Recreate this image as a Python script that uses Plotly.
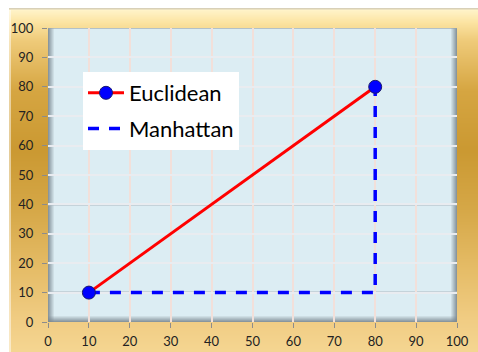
import base64
import struct
import zlib

import numpy as np
import plotly.graph_objects as go

# Point coordinates for the two distance paths
euclid_x = [10, 80]
euclid_y = [10, 80]
manhattan_x = [10, 80, 80]
manhattan_y = [10, 10, 80]
series_names = ["Euclidean", "Manhattan"]
tick_vals = list(range(0, 101, 10))

W, H = 478, 352
L, R, T, B = 48, 21, 28, 30  # margins around the plotting area
PX0, PX1 = L, W - R
PY0, PY1 = T, H - B


def hex_rgb(h):
    h = h.lstrip("#")
    return np.array([int(h[i:i + 2], 16) for i in (0, 2, 4)], dtype=float)


def make_png(arr):
    arr = np.clip(arr, 0, 255).astype(np.uint8)
    h, w, _ = arr.shape
    raw = b"".join(b"\x00" + arr[r].tobytes() for r in range(h))

    def chunk(tag, data):
        c = struct.pack(">I", len(data)) + tag + data
        return c + struct.pack(">I", zlib.crc32(tag + data) & 0xFFFFFFFF)

    png = b"\x89PNG\r\n\x1a\n"
    png += chunk(b"IHDR", struct.pack(">IIBBBBB", w, h, 8, 2, 0, 0, 0))
    png += chunk(b"IDAT", zlib.compress(raw, 9))
    png += chunk(b"IEND", b"")
    return "data:image/png;base64," + base64.b64encode(png).decode()


# Golden frame with a vertical gradient
img = np.full((H, W, 3), 255.0)
stops = [(8, "#D8D0B8"), (10, "#FFF3C8"), (22, "#FCE4A2"), (40, "#EFCB7A"),
         (90, "#D6A642"), (150, "#CB9932"), (210, "#D6A848"), (270, "#E6BD68"),
         (320, "#F1CD84"), (352, "#F5D692")]
sy = np.array([s[0] for s in stops], dtype=float)
sc = np.array([hex_rgb(s[1]) for s in stops])
ys = np.arange(H, dtype=float)
prof = np.stack([np.interp(ys, sy, sc[:, k]) for k in range(3)], axis=1)
img[8:, 9:, :] = prof[8:, None, :]
img[10:, 9:11, :] = img[10:, 9:11, :] * 0.5 + 255 * 0.5

# Light-blue plotting area with soft inner shadows along its edges
bg = hex_rgb("#DCEDF3")
img[PY0:PY1, PX0:PX1, :] = bg
shade = hex_rgb("#7A8790")
for i in range(6):
    a = 0.85 * (1 - i / 6)
    img[PY0:PY1, PX0 + i, :] = img[PY0:PY1, PX0 + i, :] * (1 - a) + shade * a
    img[PY0:PY1, PX1 - 1 - i, :] = img[PY0:PY1, PX1 - 1 - i, :] * (1 - a) + shade * a
    img[PY1 - 1 - i, PX0:PX1, :] = img[PY1 - 1 - i, PX0:PX1, :] * (1 - a) + shade * a
img[PY0, PX0:PX1, :] = img[PY0, PX0:PX1, :] * 0.4 + hex_rgb("#98A4AC") * 0.6

background = make_png(img)

fig = go.Figure()

fig.add_trace(go.Scatter(
    x=manhattan_x, y=manhattan_y, mode="lines", name=series_names[1],
    legendrank=2, legendgroup="m",
    line=dict(color="#0000FF", width=3.5, dash="11px,10px"),
))
fig.add_trace(go.Scatter(
    x=euclid_x, y=euclid_y, mode="lines+markers", name=series_names[0],
    legendrank=1, legendgroup="e",
    line=dict(color="#FF0000", width=3),
    marker=dict(size=13, color="#0000FF", line=dict(color="#1A1A6E", width=1)),
))

# Two stronger horizontal rules inside the grid
for yv in (10, 40):
    fig.add_shape(type="line", xref="paper", x0=0, x1=1, yref="y", y0=yv, y1=yv,
                  line=dict(color="#AEBAC2", width=2), layer="below")

axis_common = dict(
    range=[0, 100], tickvals=tick_vals, ticks="outside", ticklen=5,
    tickcolor="#8C8C8C", tickwidth=1, showline=False, zeroline=False,
    tickfont=dict(family="Lato", size=13, color="#222222"),
    fixedrange=True, automargin=False,
)
fig.update_xaxes(**axis_common, gridcolor="#F2E0DA", gridwidth=1.5,
                 ticklabelstandoff=2)
fig.update_yaxes(**axis_common, gridcolor="#E9ECF0", gridwidth=2,
                 ticklabelstandoff=6)

fig.update_layout(
    width=W, height=H,
    margin=dict(l=L, r=R, t=T, b=B, pad=0, autoexpand=False),
    paper_bgcolor="rgba(0,0,0,0)",
    plot_bgcolor="rgba(0,0,0,0)",
    showlegend=True,
    legend=dict(
        x=(83 - L) / (PX1 - PX0), y=(PY1 - 72) / (PY1 - PY0),
        xanchor="left", yanchor="top",
        bgcolor="#FFFFFF", borderwidth=0,
        font=dict(family="Lato", size=22, color="#000000"),
        tracegroupgap=4, itemwidth=36,
    ),
    images=[dict(
        source=background, xref="paper", yref="paper",
        x=-L / (PX1 - PX0), y=1 + T / (PY1 - PY0),
        sizex=W / (PX1 - PX0), sizey=H / (PY1 - PY0),
        xanchor="left", yanchor="top", sizing="stretch", layer="below",
    )],
)

fig.write_html("out.html")
